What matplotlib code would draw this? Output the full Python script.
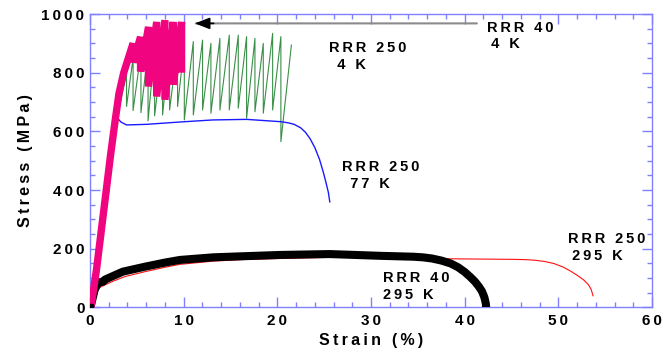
import numpy as np
import matplotlib
matplotlib.use('Agg')
import matplotlib.pyplot as plt
from matplotlib.ticker import MultipleLocator, FuncFormatter

plt.rcParams['font.family'] = ['Liberation Sans', 'DejaVu Sans']

# RRR 40, 4 K (magenta, serrated)
mag_x = [0.1, 0.7, 1.2, 1.7, 2.2, 2.7, 3.1, 3.6, 4.1]
mag_y = [0, 130, 260, 390, 520, 640, 730, 800, 850]
mag_peak_x = [4.6, 5.4, 6.25, 7.12, 8.0, 8.89, 9.78]
mag_peak_y = [900, 922, 956, 973, 979, 973, 973]
mag_valley_y = [835, 804, 753, 719, 708, 759, 800]

# RRR 250, 4 K (green, serrated)
grn_x = [0, 2.8]
grn_y = [0, 650]
grn_peak_x = [3.2, 3.9, 4.6, 5.44, 6.2, 6.9, 7.75, 8.5, 9.35, 10.07, 11.03, 12.02,
              12.91, 13.87, 14.87, 15.83, 16.72, 17.61, 18.5, 19.5, 20.38, 21.5]
grn_peak_y = [720, 800, 850, 870, 875, 880, 885, 890, 890, 894, 906, 911,
              900, 917, 928, 928, 923, 917, 900, 934, 923, 894]
grn_valley_y = [690, 685, 671, 664, 636, 653, 656, 673, 685, 639, 656, 673,
                662, 673, 673, 679, 645, 667, 662, 673, 565]

# RRR 250, 77 K (blue)
blu_x = [0, 1.0, 2.0, 2.7, 2.95, 3.3, 3.9, 6.0, 9.6, 13.1, 16.7, 20.4, 21.2, 21.8,
         22.5, 23.0, 23.5, 24.0, 24.5, 24.9, 25.2, 25.45, 25.6]
blu_y = [0, 150, 400, 600, 645, 632, 622, 624, 632, 639, 641, 633, 629, 624,
         612, 597, 575, 545, 505, 462, 425, 392, 360]

# RRR 250, 295 K (red)
red_x = [0, 0.4, 0.9, 1.6, 2.5, 3.7, 5.87, 8.0, 9.6, 13.2, 16.7, 20.3, 25.6, 31, 38.07,
         41.6, 45.2, 46.5, 47.5, 48.5, 49.5, 50.5, 51.3, 52.0, 52.7, 53.2, 53.5, 53.7]
red_y = [0, 45, 66, 77, 90, 105, 122, 137, 147, 158, 164, 167, 171, 171, 166,
         165, 164, 163, 161, 157, 150, 138, 124, 110, 94, 78, 62, 40]

# RRR 40, 295 K (black)
blk_x = [0.05, 0.5, 0.9, 1.4, 1.6, 2.3, 3.5, 5.87, 8.0, 9.6, 13.2, 16.7, 20.3, 25.6, 31.0,
         34.5, 35.5, 36.5, 37.5, 38.5, 39.3, 40.0, 40.6, 41.1, 41.5, 41.85, 42.1, 42.25, 42.3]
blk_y = [0, 60, 85, 88, 95, 105, 122, 139, 153, 162, 171, 175, 179, 182, 176,
         173, 171, 167, 160, 150, 137, 121, 104, 88, 72, 55, 35, 15, 0]


def sawtooth(x0, y0, px, py, vy):
    xs, ys = list(x0), list(y0)
    for i in range(len(px)):
        xs.append(px[i]); ys.append(py[i])
        if i < len(vy):
            xs.append(px[i]); ys.append(vy[i])
    return xs, ys


def spaced(s):
    return '\u2009'.join(s)


fig = plt.figure(figsize=(6.71, 3.62), dpi=100)
ax = fig.add_axes([0.1341, 0.1506, 0.8376, 0.8107])

gx, gy = sawtooth(grn_x, grn_y, grn_peak_x, grn_peak_y, grn_valley_y)
ax.plot(gx, gy, color='#3a8f48', lw=0.8, zorder=2)
ax.plot(blu_x, blu_y, color='#1a1aff', lw=1.0, zorder=3)
ax.plot(red_x, red_y, color='#ff1010', lw=0.8, zorder=3)
ax.plot(blk_x, blk_y, color='black', lw=5.8, zorder=4, solid_capstyle='butt')
ax.plot([0], [0], 's', color='black', ms=4, zorder=6)
mx, my = sawtooth(mag_x, mag_y, mag_peak_x, mag_peak_y, mag_valley_y)
ax.plot(mx, my, color='#f0047f', lw=5.3, zorder=5, solid_joinstyle='bevel',
        solid_capstyle='butt')

# arrow to RRR 40 4 K
ax.annotate('', xy=(11.0, 968), xytext=(41.6, 968),
            arrowprops=dict(arrowstyle='-', color='#8a8a8a', lw=1.5), zorder=6)
ax.annotate('', xy=(10.9, 968), xytext=(13.5, 968),
            arrowprops=dict(arrowstyle='-|>,head_length=0.9,head_width=0.35',
                            color='black', lw=1.2), zorder=7)

tkw = dict(fontsize=10.5, fontweight='bold', va='center', ha='left', linespacing=1.25)
ax.text(42.4, 925, spaced('RRR 40') + '\n ' + spaced('4 K'), **tkw)
ax.text(25.5, 855, spaced('RRR 250') + '\n  ' + spaced('4 K'), **tkw)
ax.text(26.9, 450, spaced('RRR 250') + '\n  ' + spaced('77 K'), **tkw)
ax.text(51.0, 205, spaced('RRR 250') + '\n ' + spaced('295 K'), **tkw)
ax.text(31.3, 72, spaced('RRR 40') + '\n' + spaced('295 K'), **tkw)

ax.set_xlim(0, 60)
ax.set_ylim(0, 1000)

blue = '#8080ff'
for s in ax.spines.values():
    s.set_color(blue)
    s.set_linewidth(1.0)

ax.xaxis.set_major_locator(MultipleLocator(10))
ax.xaxis.set_minor_locator(MultipleLocator(2))
ax.yaxis.set_major_locator(MultipleLocator(200))
ax.yaxis.set_minor_locator(MultipleLocator(50))
ax.tick_params(which='both', direction='in', top=True, right=True, color=blue,
               labelsize=11, width=1.0)
ax.tick_params(which='major', length=7)
ax.tick_params(which='minor', length=3.5)
fmt = FuncFormatter(lambda v, p: spaced('%d' % v))
ax.xaxis.set_major_formatter(fmt)
ax.yaxis.set_major_formatter(fmt)
for lab in ax.get_xticklabels() + ax.get_yticklabels():
    lab.set_fontweight('bold')
ax.tick_params(axis='x', pad=5)
ax.tick_params(axis='y', pad=4)

ax.set_xlabel(spaced('Strain (%)'), fontsize=11.5, fontweight='bold', labelpad=3)
ax.set_ylabel(spaced('Stress (MPa)'), fontsize=11.5, fontweight='bold', labelpad=6)

fig.savefig('out.png', dpi=100)
